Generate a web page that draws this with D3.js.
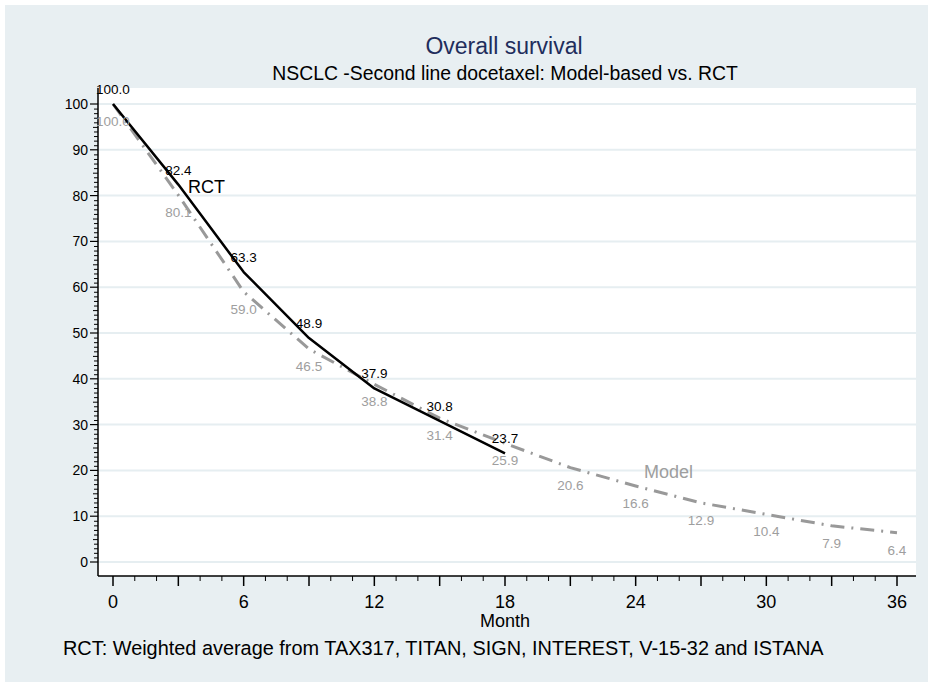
<!DOCTYPE html>
<html>
<head>
<meta charset="utf-8">
<script src="https://cdn.jsdelivr.net/npm/d3@7"></script>
<style>
  body { margin: 0; background: #fff; }
  svg { display: block; font-family: "Liberation Sans", Arial, sans-serif; }
</style>
</head>
<body>
<svg id="chart" width="928" height="682"></svg>
<script>
// data
const rctMonths = [0, 3, 6, 9, 12, 15, 18];
const rctValues = [100.0, 82.4, 63.3, 48.9, 37.9, 30.8, 23.7];
const modelMonths = [0, 3, 6, 9, 12, 15, 18, 21, 24, 27, 30, 33, 36];
const modelValues = [100.0, 80.1, 59.0, 46.5, 38.8, 31.4, 25.9, 20.6, 16.6, 12.9, 10.4, 7.9, 6.4];
const xTicks = [0, 6, 12, 18, 24, 30, 36];
const yTicks = [0, 10, 20, 30, 40, 50, 60, 70, 80, 90, 100];

const svg = d3.select("#chart");
const W = 928, H = 682;
const plot = { left: 98, right: 916, top: 88, bottom: 576 };

svg.append("rect")
  .attr("x", 5).attr("y", 5)
  .attr("width", W - 5).attr("height", H - 5)
  .attr("fill", "#e8eff2");

svg.append("rect")
  .attr("x", plot.left).attr("y", plot.top)
  .attr("width", plot.right - plot.left).attr("height", plot.bottom - plot.top)
  .attr("fill", "#fff");

const x = d3.scaleLinear().domain([0, 36]).range([113, 897]);
const y = d3.scaleLinear().domain([0, 100]).range([562, 104]);

// grid
svg.append("g").selectAll("line")
  .data(yTicks)
  .enter().append("line")
    .attr("x1", plot.left).attr("x2", plot.right)
    .attr("y1", d => y(d)).attr("y2", d => y(d))
    .attr("stroke", "#e6eef1")
    .attr("stroke-width", 2);

// y axis
const yAxis = svg.append("g").attr("transform", `translate(${plot.left},0)`);
yAxis.append("line")
  .attr("y1", plot.top).attr("y2", plot.bottom)
  .attr("stroke", "#000").attr("stroke-width", 1.5);
yAxis.selectAll(".minor")
  .data(d3.range(0, 101, 1).filter(v => v % 10 !== 0))
  .enter().append("line")
    .attr("x1", d => d % 5 === 0 ? -5 : -4).attr("x2", 0)
    .attr("y1", d => y(d) + 0.5).attr("y2", d => y(d) + 0.5)
    .attr("stroke", "#000").attr("stroke-width", 1);
yAxis.selectAll(".major")
  .data(yTicks)
  .enter().append("line")
    .attr("x1", -8).attr("x2", 0)
    .attr("y1", d => y(d)).attr("y2", d => y(d))
    .attr("stroke", "#000").attr("stroke-width", 1.2);
yAxis.selectAll("text")
  .data(yTicks)
  .enter().append("text")
    .attr("x", -10).attr("y", d => y(d) + 5)
    .attr("text-anchor", "end")
    .attr("font-size", 14)
    .text(d => d);

// x axis
const xAxis = svg.append("g").attr("transform", `translate(0,${plot.bottom})`);
xAxis.append("line")
  .attr("x1", plot.left).attr("x2", plot.right)
  .attr("stroke", "#000").attr("stroke-width", 1.5);
xAxis.selectAll(".tick")
  .data(d3.range(0, 37, 1))
  .enter().append("line")
    .attr("x1", d => x(d)).attr("x2", d => x(d))
    .attr("y1", 0).attr("y2", d => d % 3 === 0 ? 10 : 5)
    .attr("stroke", "#000").attr("stroke-width", d => d % 3 === 0 ? 1.5 : 1);
xAxis.selectAll("text")
  .data(xTicks)
  .enter().append("text")
    .attr("x", d => x(d)).attr("y", 32)
    .attr("text-anchor", "middle")
    .attr("font-size", 18)
    .text(d => d);

svg.append("text")
  .attr("x", x(18)).attr("y", 627)
  .attr("text-anchor", "middle")
  .attr("font-size", 18)
  .text("Month");

// lines
const rct = rctMonths.map((m, i) => ({ m: m, v: rctValues[i] }));
const model = modelMonths.map((m, i) => ({ m: m, v: modelValues[i] }));
const line = d3.line().x(d => x(d.m)).y(d => y(d.v));

svg.append("path")
  .datum(model)
  .attr("d", line)
  .attr("fill", "none")
  .attr("stroke", "#999")
  .attr("stroke-width", 3)
  .attr("stroke-dasharray", "14,7,2,7");

svg.append("path")
  .datum(rct)
  .attr("d", line)
  .attr("fill", "none")
  .attr("stroke", "#000")
  .attr("stroke-width", 2.5)
  .attr("stroke-linejoin", "round");

// value labels
svg.append("g").selectAll("text")
  .data(model)
  .enter().append("text")
    .attr("x", d => x(d.m)).attr("y", d => y(d.v) + 22)
    .attr("text-anchor", "middle")
    .attr("font-size", 13.5)
    .attr("fill", "#9e9e9e")
    .text(d => d.v.toFixed(1));

svg.append("g").selectAll("text")
  .data(rct)
  .enter().append("text")
    .attr("x", d => x(d.m)).attr("y", d => y(d.v) - 10)
    .attr("text-anchor", "middle")
    .attr("font-size", 13.5)
    .attr("fill", "#000")
    .text(d => d.v.toFixed(1));

// series names
svg.append("text")
  .attr("x", 188).attr("y", 193)
  .attr("font-size", 18)
  .text("RCT");
svg.append("text")
  .attr("x", 644).attr("y", 478)
  .attr("font-size", 18)
  .attr("fill", "#9e9e9e")
  .text("Model");

// titles
svg.append("text")
  .attr("x", 504).attr("y", 54)
  .attr("text-anchor", "middle")
  .attr("font-size", 23)
  .attr("fill", "#1f2d5c")
  .text("Overall survival");
svg.append("text")
  .attr("x", 505).attr("y", 80)
  .attr("text-anchor", "middle")
  .attr("font-size", 19.4)
  .text("NSCLC -Second line docetaxel: Model-based vs. RCT");

svg.append("text")
  .attr("x", 63).attr("y", 655)
  .attr("font-size", 19.9)
  .text("RCT: Weighted average from TAX317, TITAN, SIGN, INTEREST, V-15-32 and ISTANA");
</script>
</body>
</html>
